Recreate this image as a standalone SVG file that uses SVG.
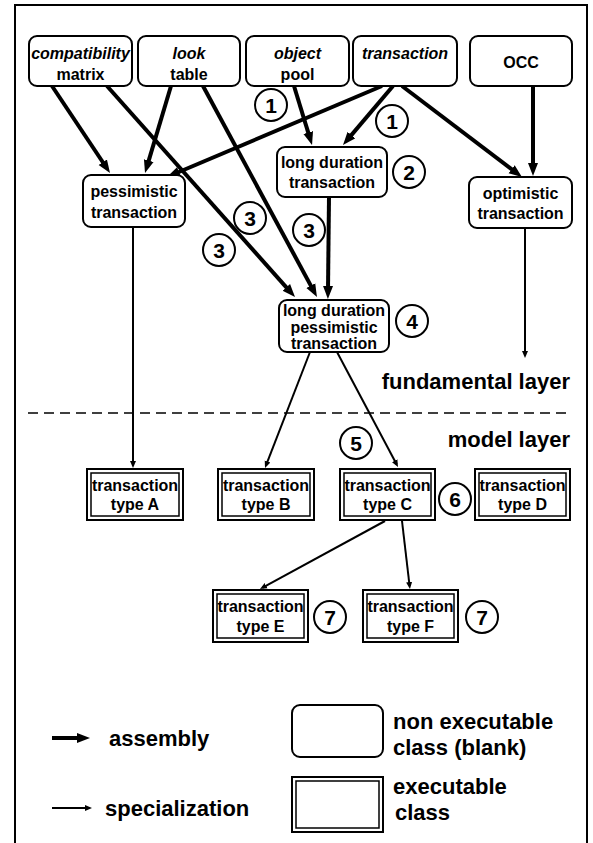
<svg xmlns="http://www.w3.org/2000/svg" width="593" height="843" viewBox="0 0 593 843">
  <defs>
    <style>
      .frame { fill: none; stroke: #000; stroke-width: 2; }
      .cls { fill: #fff; stroke: #000; stroke-width: 2; }
      .exo { fill: #fff; stroke: #000; stroke-width: 2; }
      .exi { fill: none; stroke: #000; stroke-width: 1.5; }
      .t { font-family: "Liberation Sans", Arial, sans-serif; font-weight: bold; font-size: 16px; fill: #000; text-anchor: middle; }
      .it { font-style: italic; }
      .num { fill: #fff; stroke: #000; stroke-width: 2; }
      .numt { font-family: "Liberation Sans", Arial, sans-serif; font-weight: bold; font-size: 21px; fill: #000; text-anchor: middle; }
      .lbl { font-family: "Liberation Sans", Arial, sans-serif; font-weight: bold; font-size: 22px; fill: #000; }
      .asm { fill: none; stroke: #000; stroke-width: 4; marker-end: url(#asmHead); }
      .spc { fill: none; stroke: #000; stroke-width: 2; marker-end: url(#spcHead); }
      .layer { fill: none; stroke: #000; stroke-width: 1.5; stroke-dasharray: 10 6; }
    </style>
    <marker id="asmHead" markerUnits="userSpaceOnUse" markerWidth="14" markerHeight="12" viewBox="0 -6 14 12" refX="4" refY="0" orient="auto">
      <path d="M0,-5 L13,0 L0,5 z" fill="#000"/>
    </marker>
    <marker id="spcHead" markerUnits="userSpaceOnUse" markerWidth="8" markerHeight="8" viewBox="0 -4 8 8" refX="4" refY="0" orient="auto">
      <path d="M0,-3 L7,0 L0,3 z" fill="#000"/>
    </marker>
  </defs>

  <rect width="593" height="843" fill="#fff"/>

  <!-- outer frame, open at the bottom -->
  <path class="frame" d="M15,843 V5 H587 V843"/>

  <!-- boundary between fundamental and model layers -->
  <line class="layer" x1="28" y1="413" x2="572" y2="413"/>
  <text class="lbl" x="570" y="389" text-anchor="end">fundamental layer</text>
  <text class="lbl" x="570" y="447" text-anchor="end">model layer</text>

  <!-- connectors -->
  <g id="connectors">
    <!-- assembly -->
    <line class="asm" x1="52" y1="86" x2="105" y2="165.5"/>
    <line class="asm" x1="107" y1="86" x2="289" y2="290.3"/>
    <line class="asm" x1="171" y1="86" x2="147.6" y2="164.4"/>
    <line class="asm" x1="203" y1="86" x2="312.7" y2="289.1"/>
    <line class="asm" x1="294" y1="86" x2="309.4" y2="136.4"/>
    <line class="asm" x1="382" y1="86" x2="175.3" y2="173.5"/>
    <line class="asm" x1="393" y1="86" x2="348.8" y2="138.1"/>
    <line class="asm" x1="402" y1="86" x2="514.8" y2="171.6"/>
    <line class="asm" x1="533" y1="86" x2="533" y2="167"/>
    <line class="asm" x1="329" y1="197" x2="328" y2="290"/>
    <!-- specialization -->
    <line class="spc" x1="133" y1="227" x2="133" y2="465"/>
    <line class="spc" x1="525" y1="228" x2="525" y2="355"/>
    <line class="spc" x1="310" y1="352" x2="266.1" y2="465.2"/>
    <line class="spc" x1="337" y1="352" x2="396.6" y2="464.3"/>
    <line class="spc" x1="385" y1="521" x2="262.6" y2="587.6"/>
    <line class="spc" x1="402" y1="521" x2="409.6" y2="586"/>
  </g>

  <!-- fundamental layer classes -->
  <g id="compatibility-matrix">
    <rect class="cls" x="29" y="36" width="103" height="50" rx="8"/>
    <text class="t it" x="80.5" y="59">compatibility</text>
    <text class="t" x="80.5" y="80">matrix</text>
  </g>
  <g id="look-table">
    <rect class="cls" x="138" y="36" width="102" height="50" rx="8"/>
    <text class="t it" x="189" y="59">look</text>
    <text class="t" x="189" y="80">table</text>
  </g>
  <g id="object-pool">
    <rect class="cls" x="246" y="36" width="103" height="50" rx="8"/>
    <text class="t it" x="297.5" y="59">object</text>
    <text class="t" x="297.5" y="80">pool</text>
  </g>
  <g id="transaction">
    <rect class="cls" x="353" y="36" width="104" height="50" rx="8"/>
    <text class="t it" x="405" y="59">transaction</text>
  </g>
  <g id="occ">
    <rect class="cls" x="470" y="36" width="102" height="50" rx="8"/>
    <text class="t" x="521" y="68">OCC</text>
  </g>
  <g id="pessimistic-transaction">
    <rect class="cls" x="83" y="175" width="102" height="52" rx="8"/>
    <text class="t" x="134" y="197">pessimistic</text>
    <text class="t" x="134" y="218">transaction</text>
  </g>
  <g id="long-duration-transaction">
    <rect class="cls" x="277" y="147" width="110" height="50" rx="8"/>
    <text class="t" x="332" y="168">long duration</text>
    <text class="t" x="332" y="188">transaction</text>
  </g>
  <g id="optimistic-transaction">
    <rect class="cls" x="469" y="177" width="103" height="51" rx="8"/>
    <text class="t" x="520.5" y="199">optimistic</text>
    <text class="t" x="520.5" y="219">transaction</text>
  </g>
  <g id="long-duration-pessimistic-transaction">
    <rect class="cls" x="279" y="300" width="110" height="52" rx="8"/>
    <text class="t" x="334" y="316">long duration</text>
    <text class="t" x="334" y="333">pessimistic</text>
    <text class="t" x="334" y="349">transaction</text>
  </g>

  <!-- model layer classes -->
  <g id="transaction-type-a">
    <rect class="exo" x="87" y="469" width="96" height="51"/>
    <rect class="exi" x="91" y="473" width="88" height="43"/>
    <text class="t" x="135" y="491">transaction</text>
    <text class="t" x="135" y="510">type A</text>
  </g>
  <g id="transaction-type-b">
    <rect class="exo" x="218" y="469" width="96" height="51"/>
    <rect class="exi" x="222" y="473" width="88" height="43"/>
    <text class="t" x="266" y="491">transaction</text>
    <text class="t" x="266" y="510">type B</text>
  </g>
  <g id="transaction-type-c">
    <rect class="exo" x="340" y="469" width="95" height="51"/>
    <rect class="exi" x="344" y="473" width="87" height="43"/>
    <text class="t" x="387.5" y="491">transaction</text>
    <text class="t" x="387.5" y="510">type C</text>
  </g>
  <g id="transaction-type-d">
    <rect class="exo" x="475" y="469" width="95" height="51"/>
    <rect class="exi" x="479" y="473" width="87" height="43"/>
    <text class="t" x="522.5" y="491">transaction</text>
    <text class="t" x="522.5" y="510">type D</text>
  </g>
  <g id="transaction-type-e">
    <rect class="exo" x="213" y="590" width="95" height="52"/>
    <rect class="exi" x="217" y="594" width="87" height="44"/>
    <text class="t" x="260.5" y="612">transaction</text>
    <text class="t" x="260.5" y="632">type E</text>
  </g>
  <g id="transaction-type-f">
    <rect class="exo" x="363" y="590" width="95" height="52"/>
    <rect class="exi" x="367" y="594" width="87" height="44"/>
    <text class="t" x="410.5" y="612">transaction</text>
    <text class="t" x="410.5" y="632">type F</text>
  </g>

  <!-- step numbers -->
  <g id="steps">
    <circle class="num" cx="271" cy="105" r="16"/><text class="numt" x="271" y="112.5">1</text>
    <circle class="num" cx="392" cy="121" r="16"/><text class="numt" x="392" y="128.5">1</text>
    <circle class="num" cx="409" cy="172" r="16"/><text class="numt" x="409" y="179.5">2</text>
    <circle class="num" cx="250" cy="218" r="16"/><text class="numt" x="250" y="225.5">3</text>
    <circle class="num" cx="219" cy="250" r="16"/><text class="numt" x="219" y="257.5">3</text>
    <circle class="num" cx="309" cy="230" r="16"/><text class="numt" x="309" y="237.5">3</text>
    <circle class="num" cx="412" cy="321" r="16"/><text class="numt" x="412" y="328.5">4</text>
    <circle class="num" cx="356" cy="443" r="16"/><text class="numt" x="356" y="450.5">5</text>
    <circle class="num" cx="455" cy="499" r="16"/><text class="numt" x="455" y="506.5">6</text>
    <circle class="num" cx="330" cy="617" r="16"/><text class="numt" x="330" y="624.5">7</text>
    <circle class="num" cx="482" cy="617" r="16"/><text class="numt" x="482" y="624.5">7</text>
  </g>

  <!-- legend -->
  <g id="legend">
    <line class="asm" x1="52" y1="738" x2="81" y2="738"/>
    <text class="lbl" x="109" y="746">assembly</text>
    <line class="spc" x1="52" y1="808" x2="89" y2="808"/>
    <text class="lbl" x="105" y="816">specialization</text>
    <rect class="cls" x="292" y="705" width="91" height="52" rx="8"/>
    <text class="lbl" x="393" y="729">non executable</text>
    <text class="lbl" x="393" y="755">class (blank)</text>
    <rect class="exo" x="292" y="777" width="91" height="55"/>
    <rect class="exi" x="296" y="781" width="83" height="47"/>
    <text class="lbl" x="393" y="794">executable</text>
    <text class="lbl" x="395" y="820">class</text>
  </g>
</svg>
